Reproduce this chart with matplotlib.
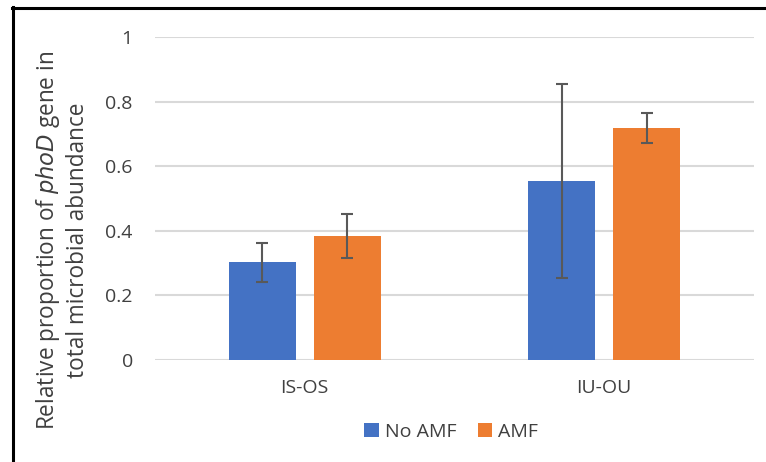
import matplotlib
matplotlib.use("Agg")
import matplotlib.pyplot as plt
from matplotlib.lines import Line2D
from matplotlib.patches import Patch
import numpy as np

categories = ["IS-OS", "IU-OU"]
series_names = ["No AMF", "AMF"]
no_amf = [0.302, 0.555]
no_amf_err = [0.060, 0.300]
amf = [0.384, 0.719]
amf_err = [0.068, 0.046]
yticks = [0, 0.2, 0.4, 0.6, 0.8, 1]
ytick_labels = ["0", "0.2", "0.4", "0.6", "0.8", "1"]

colors = ["#4472C4", "#ED7D31"]
text_color = "#404040"
plt.rcParams['font.family'] = ['Open Sans', 'DejaVu Sans']

W, H = 766, 462
fig = plt.figure(figsize=(W / 100, H / 100), dpi=100)
ax = fig.add_axes([155 / W, (H - 360) / H, (754 - 155) / W, (360 - 37) / H])

x = np.arange(len(categories))
bw = 0.223
off = 0.142
ekw = dict(ecolor="#595959", elinewidth=1.5, capsize=4, capthick=1.5)
ax.bar(x - off, no_amf, bw, color=colors[0], yerr=no_amf_err, error_kw=ekw, zorder=3)
ax.bar(x + off, amf, bw, color=colors[1], yerr=amf_err, error_kw=ekw, zorder=3)

ax.set_xlim(-0.5, 1.5)
ax.set_ylim(0, 1)
ax.set_yticks(yticks)
ax.set_yticklabels(ytick_labels)
ax.set_xticks(x)
ax.set_xticklabels(categories)
ax.yaxis.grid(True, color="#d9d9d9", linewidth=1.5, zorder=0)
ax.set_axisbelow(True)
for s in ax.spines.values():
    s.set_visible(False)
ax.tick_params(axis='both', length=0, labelsize=14, colors=text_color)
ax.tick_params(axis='y', pad=16)
ax.tick_params(axis='x', pad=14)

fig.text(62 / W, 1 - 240 / H,
         "Relative proportion of $\\it{phoD}$ gene in\ntotal microbial abundance",
         rotation=90, ha='center', va='center', fontsize=16.3, color=text_color,
         linespacing=1.2)

handles = [Patch(facecolor=c) for c in colors]
fig.legend(handles, series_names, loc='center', bbox_to_anchor=(451 / W, 1 - 432 / H),
           ncol=2, frameon=False, fontsize=14, handlelength=0.75, handleheight=0.75,
           handletextpad=0.3, columnspacing=1.1, labelcolor=text_color,
           borderpad=0)

fig.add_artist(Line2D([13 / W, 13 / W], [0, 1 - 7 / H], color='black', linewidth=2.2,
                      transform=fig.transFigure))
fig.add_artist(Line2D([12 / W, 1], [1 - 8 / H, 1 - 8 / H], color='black', linewidth=2.2,
                      transform=fig.transFigure))

fig.savefig("out.png", dpi=100)
